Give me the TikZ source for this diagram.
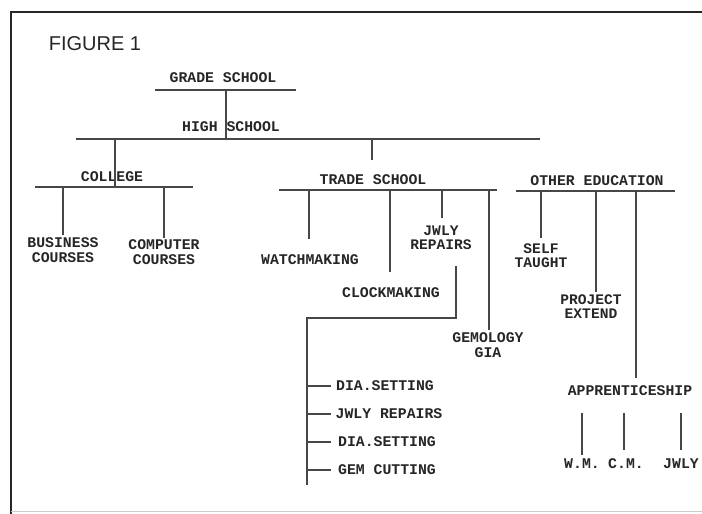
\documentclass[tikz,border=0pt]{standalone}
\usepackage{fontspec}
\setmainfont{Liberation Serif}
\newfontfamily\typew{Liberation Mono}
\newfontfamily\figsans{Liberation Sans}
\tikzset{
  lbl/.style={font=\typew\bfseries\fontsize{14.8}{15}\selectfont, inner sep=0pt, text=black!85, align=center},
  lbltight/.style={lbl, font=\typew\bfseries\fontsize{14.6}{14}\selectfont},
  tree/.style={draw=black!72, line width=1.3pt},
  frame/.style={draw=black!85, line width=2.6pt},
}
\begin{document}
\begin{tikzpicture}[x=1pt,y=-1pt]
\useasboundingbox (0,0) rectangle (702,514);
% frame
\coordinate (fTR) at (702,12);
\coordinate (fTL) at (11,12);
\coordinate (fBL) at (11,514);
\coordinate (bL) at (11,511);
\coordinate (bR) at (702,511);
\draw[frame] (fTR) -- (fTL) -- (fBL);
\draw[draw=black!20, line width=1pt] (bL) -- (bR);

\node[font=\figsans\fontsize{20}{22}\selectfont, text=black!85, inner sep=0pt] (fig) at (95,44) {FIGURE 1};

% labels
\node[lbl] (gs) at (223,78) {GRADE SCHOOL};
\node[lbl] (hs) at (231,127) {HIGH SCHOOL};
\node[lbl] (col) at (112,177) {COLLEGE};
\node[lbl] (bus) at (63,250) {BUSINESS\\COURSES};
\node[lbl] (comp) at (164,252) {COMPUTER\\COURSES};
\node[lbl] (trade) at (373,180) {TRADE SCHOOL};
\node[lbl] (watch) at (310,260) {WATCHMAKING};
\node[lbl] (clock) at (391,293) {CLOCKMAKING};
\node[lbltight] (jwly) at (441,238) {JWLY\\REPAIRS};
\node[lbl] (gem) at (488,345) {GEMOLOGY\\GIA};
\node[lbl] (dia1) at (385,386) {DIA.SETTING};
\node[lbl] (jr2) at (389,414) {JWLY REPAIRS};
\node[lbl] (dia2) at (387,442) {DIA.SETTING};
\node[lbl] (gcut) at (387,470) {GEM CUTTING};
\node[lbl] (other) at (597,181) {OTHER EDUCATION};
\node[lbltight] (self) at (541,256) {SELF\\TAUGHT};
\node[lbltight] (proj) at (591,307) {PROJECT\\EXTEND};
\node[lbl] (appr) at (630,391) {APPRENTICESHIP};
\node[lbl] (wm) at (582,464) {W.M.};
\node[lbl] (cm) at (626,464) {C.M.};
\node[lbl] (jw) at (681,464) {JWLY};

% bars and junction coordinates
\coordinate (gsL) at (155,90);  \coordinate (gsR) at (296,90);
\coordinate (gsD) at (226,90);  \coordinate (hsU) at (226,139);
\coordinate (hsL) at (76,139);  \coordinate (hsR) at (540,139);
\coordinate (hsC) at (115,139); \coordinate (colU) at (115,187);
\coordinate (hsT) at (372,139); \coordinate (trU) at (372,160);
\coordinate (colL) at (35,187); \coordinate (colR) at (193,187);
\coordinate (colA) at (63,187); \coordinate (busU) at (63,235);
\coordinate (colB) at (164,187);\coordinate (compU) at (164,238);
\coordinate (trL) at (279,190); \coordinate (trR) at (497,190);
\coordinate (trA) at (309,190); \coordinate (watchU) at (309,239);
\coordinate (trB) at (390,190); \coordinate (clockU) at (390,272);
\coordinate (trC) at (442,190); \coordinate (jwlyU) at (442,218);
\coordinate (trD) at (489,190); \coordinate (gemU) at (489,330);
\coordinate (jwD) at (456,266); \coordinate (jwK) at (456,318);
\coordinate (spK) at (307,318); \coordinate (spE) at (307,485);
\coordinate (t1) at (307,386); \coordinate (t1e) at (331,386);
\coordinate (t2) at (307,414); \coordinate (t2e) at (331,414);
\coordinate (t3) at (307,442); \coordinate (t3e) at (331,442);
\coordinate (t4) at (307,470); \coordinate (t4e) at (331,470);
\coordinate (otL) at (516,191); \coordinate (otR) at (675,191);
\coordinate (otA) at (541,191); \coordinate (selfU) at (541,238);
\coordinate (otB) at (596,191); \coordinate (projU) at (596,292);
\coordinate (otC) at (636,191); \coordinate (apprU) at (636,378);
\coordinate (wmU) at (582,413); \coordinate (wmD) at (582,455);
\coordinate (cmU) at (624,413); \coordinate (cmD) at (624,450);
\coordinate (jwU) at (681,413); \coordinate (jwD2) at (681,450);

\draw[tree] (gsL) -- (gsR);
\draw[tree] (gsD) -- (hsU);
\draw[tree] (hsL) -- (hsR);
\draw[tree] (hsC) -- (colU);
\draw[tree] (hsT) -- (trU);
\draw[tree] (colL) -- (colR);
\draw[tree] (colA) -- (busU);
\draw[tree] (colB) -- (compU);
\draw[tree] (trL) -- (trR);
\draw[tree] (trA) -- (watchU);
\draw[tree] (trB) -- (clockU);
\draw[tree] (trC) -- (jwlyU);
\draw[tree] (trD) -- (gemU);
\draw[tree] (jwD) -- (jwK) -- (spK) -- (spE);
\draw[tree] (t1) -- (t1e);
\draw[tree] (t2) -- (t2e);
\draw[tree] (t3) -- (t3e);
\draw[tree] (t4) -- (t4e);
\draw[tree] (otL) -- (otR);
\draw[tree] (otA) -- (selfU);
\draw[tree] (otB) -- (projU);
\draw[tree] (otC) -- (apprU);
\draw[tree] (wmU) -- (wmD);
\draw[tree] (cmU) -- (cmD);
\draw[tree] (jwU) -- (jwD2);
\end{tikzpicture}
\end{document}
